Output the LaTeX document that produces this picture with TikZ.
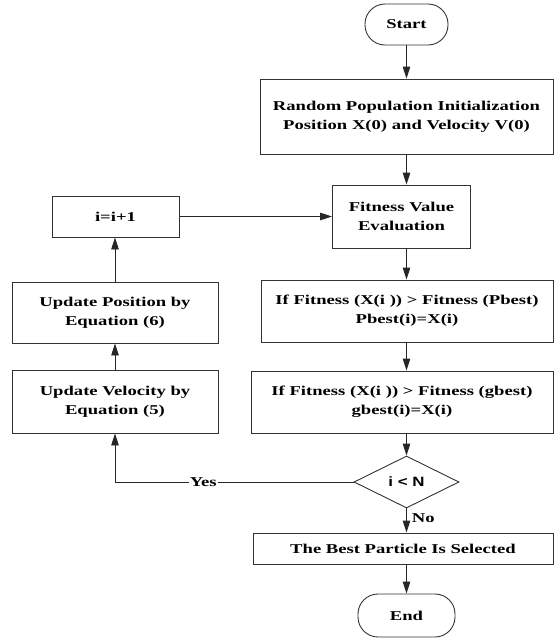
\documentclass[tikz,border=0pt]{standalone}
\usepackage{fontspec}
\newfontfamily\tnr{Liberation Serif}[FakeStretch=1.38]
\newfontfamily\arl{Liberation Sans}[FakeStretch=1.25]
\usetikzlibrary{shapes.geometric,arrows.meta}
\begin{document}
\begin{tikzpicture}[x=1pt,y=1pt,
  every node/.style={font=\tnr\bfseries\fontsize{13.5}{19}\selectfont, text=black},
  box/.style={draw=black!80, line width=0.9pt, align=center, inner sep=2pt},
  term/.style={box, rounded corners=20pt},
  dec/.style={draw=black!80, line width=0.9pt, shape=diamond, inner sep=0pt, minimum width=105pt, minimum height=52pt, font=\arl\bfseries\fontsize{13.5}{16}\selectfont},
  arr/.style={draw=black!85, line width=0.9pt, -{Triangle[length=12pt,width=7.5pt]}},
  lbl/.style={fill=white, inner sep=1pt}]
\useasboundingbox (0,0) rectangle (558,-638);
\node[term, minimum width=83pt, minimum height=41pt] (start) at (406.5,-24.5) {Start};
\node[box, minimum width=293pt, minimum height=75pt] (init) at (406.5,-116.5) {Random Population Initialization\\Position X(0) and Velocity V(0)};
\node[box, minimum width=138pt, minimum height=63pt] (fit) at (401.5,-216.5) {Fitness Value\\Evaluation};
\node[box, minimum width=127pt, minimum height=41pt] (inc) at (115.5,-216.5) {i=i+1};
\node[box, minimum width=206pt, minimum height=61pt] (pos) at (115,-312.5) {Update Position by\\Equation (6)};
\node[box, minimum width=292pt, minimum height=62pt] (pb) at (407,-311) {If Fitness (X(i )) > Fitness (Pbest)\\Pbest(i)=X(i)};
\node[box, minimum width=206pt, minimum height=63pt] (vel) at (115,-401.5) {Update Velocity by\\Equation (5)};
\node[box, minimum width=302pt, minimum height=62pt] (gb) at (402,-402) {If Fitness (X(i )) > Fitness (gbest)\\gbest(i)=X(i)};
\node[dec] (dc) at (406.5,-482) {i < N};
\node[box, minimum width=300pt, minimum height=31pt] (best) at (403,-548.5) {The Best Particle Is Selected};
\node[term, minimum width=97pt, minimum height=43pt] (end) at (406.5,-615.5) {End};
\coordinate (yc) at (115,-482);
\draw[arr] (start.south) -- (init.north);
\draw[arr] (init.south) -- (init.south |- fit.north);
\draw[arr] (init.south |- fit.south) -- (init.south |- pb.north);
\draw[arr] (init.south |- pb.south) -- (init.south |- gb.north);
\draw[arr] (init.south |- gb.south) -- (dc.north);
\draw[arr] (dc.south) -- (dc.south |- best.north) node[pos=0.4, right=5pt, inner sep=0pt] {No};
\draw[arr] (init.south |- best.south) -- (end.north);
\draw[arr] (dc.west) -- (yc) node[lbl, pos=0.63] {Yes} -- (vel.south);
\draw[arr] (vel.north) -- (pos.south);
\draw[arr] (pos.north) -- (pos.north |- inc.south);
\draw[arr] (inc.east) -- (fit.west);
\end{tikzpicture}
\end{document}
